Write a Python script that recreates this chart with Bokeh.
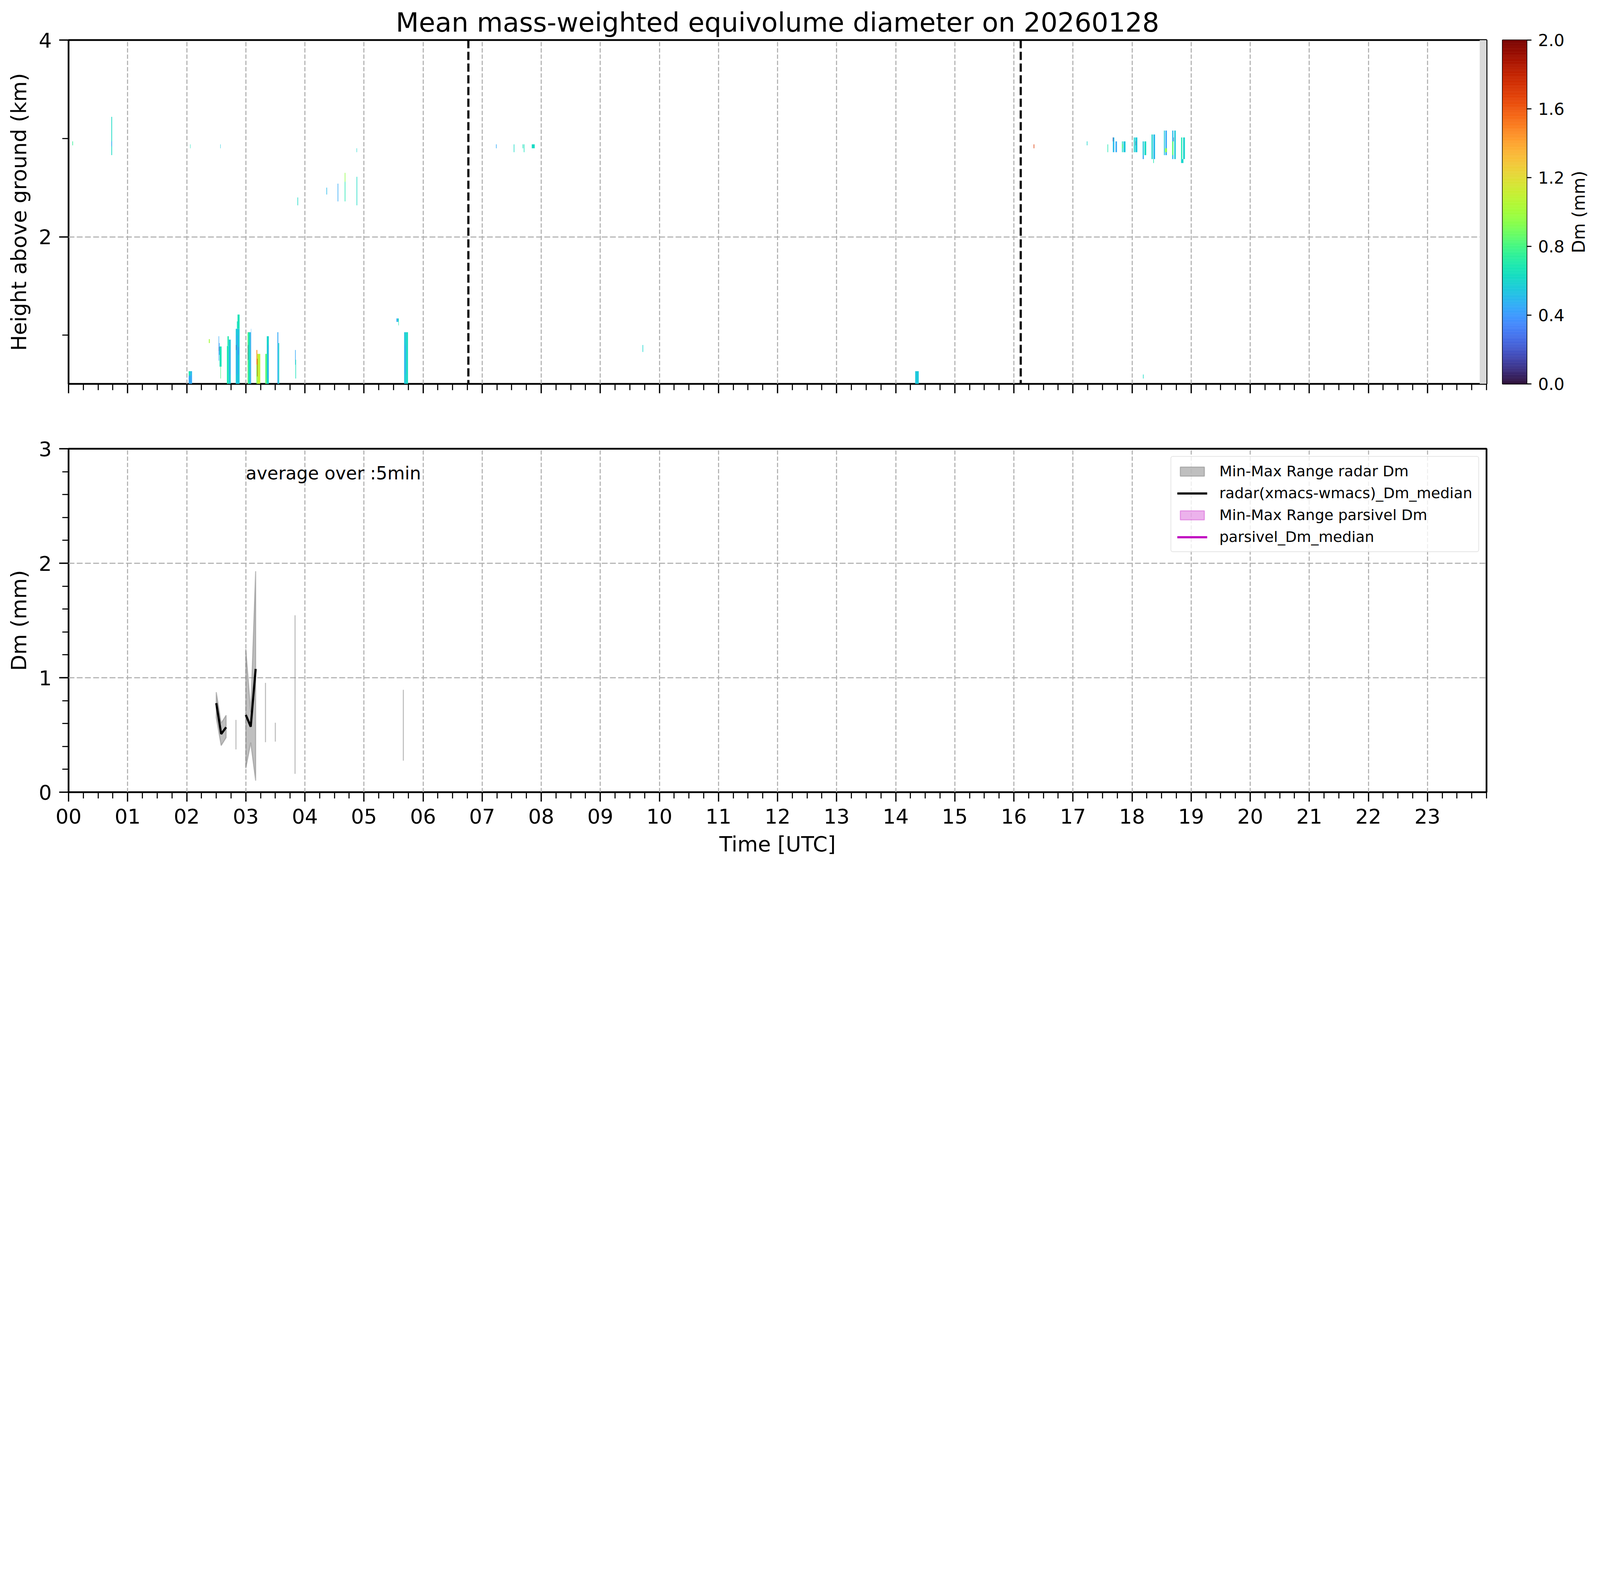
import math
import numpy as np
from bokeh.plotting import figure
from bokeh.models import (Range1d, FixedTicker, LinearColorMapper, ColumnDataSource, Span, Label,
                          Legend, LegendItem, NumeralTickFormatter)
from bokeh.layouts import column, row
from bokeh.palettes import Turbo256
from bokeh.transform import transform
from bokeh.core.properties import value
from bokeh.embed import file_html
from bokeh.resources import INLINE

FONT = "DejaVu Sans"
TITLE = "Mean mass-weighted equivolume diameter on 20260128"

hour_ticks = list(range(24))
hour_labels = [f"{h:02d}" for h in hour_ticks]

# ---------------- top panel: radar Dm cells (hour start, hour end, km bottom, km top, Dm mm)
cell_t0 = [0.065, 0.725, 0.726, 2.033, 2.060, 2.033, 2.058, 2.375, 2.540, 2.548, 2.543, 2.556, 2.570, 2.568,
           2.680, 2.712, 2.690, 2.725, 2.830, 2.850, 2.860, 2.845, 2.835, 2.870,
           3.030, 3.045, 3.075, 3.088, 3.035, 3.180, 3.180, 3.195, 3.192, 3.330, 3.355, 3.372,
           3.535, 3.550, 3.835, 3.840, 3.875, 4.365, 4.555, 4.675, 4.675, 4.875, 4.875,
           5.550, 5.575, 5.583, 5.680, 5.712, 5.690,
           7.235, 7.535, 7.685, 7.705, 7.840, 9.715, 14.330, 16.335,
           17.235, 17.585, 17.675, 17.675, 17.720, 17.830, 17.855, 17.830,
           18.030, 18.055, 18.060, 18.180, 18.210, 18.180, 18.185,
           18.330, 18.360, 18.360, 18.540, 18.565, 18.560, 18.680, 18.715, 18.680, 18.700,
           18.830, 18.865, 18.830]
cell_t1 = [0.075, 0.737, 0.736, 2.060, 2.090, 2.090, 2.064, 2.390, 2.548, 2.556, 2.547, 2.590, 2.578, 2.574,
           2.712, 2.745, 2.712, 2.740, 2.895, 2.860, 2.895, 2.862, 2.840, 2.880,
           3.045, 3.075, 3.090, 3.092, 3.040, 3.195, 3.195, 3.245, 3.198, 3.355, 3.390, 3.385,
           3.550, 3.565, 3.845, 3.850, 3.885, 4.375, 4.565, 4.685, 4.685, 4.885, 4.882,
           5.575, 5.590, 5.590, 5.712, 5.745, 5.705,
           7.245, 7.545, 7.695, 7.715, 7.890, 9.725, 14.390, 16.345,
           17.245, 17.595, 17.700, 17.682, 17.745, 17.845, 17.890, 17.845,
           18.048, 18.090, 18.065, 18.200, 18.240, 18.200, 18.195,
           18.350, 18.390, 18.370, 18.555, 18.590, 18.590, 18.700, 18.740, 18.700, 18.705,
           18.850, 18.895, 18.870]
cell_h0 = [2.93, 2.83, 2.92, 0.59, 0.59, 0.505, 2.90, 0.92, 0.74, 0.80, 0.84, 0.68, 0.56, 2.90,
           0.505, 0.505, 0.89, 0.60, 0.505, 1.065, 1.065, 0.60, 0.85, 0.80,
           0.505, 0.505, 0.505, 1.03, 0.75, 0.505, 0.70, 0.505, 0.58, 0.505, 0.505, 0.56,
           0.505, 0.505, 0.70, 0.56, 2.32, 2.43, 2.36, 2.36, 2.56, 2.32, 2.86,
           1.135, 1.135, 1.10, 0.505, 0.505, 0.60,
           2.90, 2.86, 2.90, 2.86, 2.90, 0.83, 0.505, 2.90,
           2.93, 2.86, 2.86, 2.97, 2.86, 2.86, 2.86, 2.90,
           2.86, 2.86, 2.93, 2.83, 2.83, 2.79, 0.56,
           2.79, 2.79, 2.75, 2.83, 2.83, 2.86, 2.79, 2.79, 2.83, 2.97,
           2.79, 2.79, 2.75]
cell_h1 = [2.97, 3.22, 2.97, 0.634, 0.634, 0.59, 2.94, 0.96, 0.99, 0.92, 0.88, 0.885, 0.68, 2.94,
           0.89, 0.955, 0.99, 0.85, 1.065, 1.14, 1.21, 1.00, 0.90, 0.88,
           1.03, 1.03, 1.03, 1.065, 0.90, 0.70, 0.85, 0.81, 0.76, 0.81, 0.99, 0.90,
           1.03, 0.92, 0.85, 0.75, 2.40, 2.50, 2.54, 2.56, 2.65, 2.61, 2.90,
           1.17, 1.17, 1.135, 1.03, 1.03, 0.90,
           2.94, 2.94, 2.94, 2.94, 2.94, 0.90, 0.634, 2.94,
           2.97, 2.94, 3.01, 3.01, 2.97, 2.97, 2.97, 2.94,
           3.01, 3.01, 2.97, 2.97, 2.97, 2.83, 0.60,
           3.04, 3.04, 2.79, 3.08, 3.08, 2.90, 3.08, 3.08, 2.97, 3.01,
           3.01, 3.01, 2.79]
cell_dm = [0.75, 0.62, 0.42, 0.68, 0.50, 0.45, 0.65, 1.00, 0.45, 0.40, 0.10, 0.66, 0.80, 0.55,
           0.68, 0.55, 0.70, 0.45, 0.55, 0.62, 0.66, 0.45, 0.08, 0.35,
           0.85, 0.62, 0.45, 0.45, 0.10, 0.90, 1.45, 1.10, 1.80, 0.85, 0.60, 0.45,
           0.45, 0.60, 0.45, 0.65, 0.62, 0.50, 0.45, 0.68, 0.95, 0.62, 0.60,
           0.45, 0.68, 0.68, 0.55, 0.62, 0.45,
           0.45, 0.62, 0.65, 0.65, 0.62, 0.60, 0.55, 1.70,
           0.60, 0.68, 0.50, 0.10, 0.45, 0.62, 0.55, 0.80,
           0.60, 0.55, 0.10, 0.55, 0.62, 0.45, 0.62,
           0.60, 0.50, 0.68, 0.55, 0.45, 0.95, 0.50, 0.55, 0.85, 0.10,
           0.68, 0.60, 0.60]

event_lines_h = [6.767, 16.116]
nodata_start_h = 23.885

# ---------------- bottom panel: 5-min radar Dm statistics
dm_time_h = [2.5, 2.5833, 2.6667, 2.8333, 3.0, 3.0833, 3.1667, 3.3333, 3.5, 3.8333, 5.6667]
dm_min = [0.650, 0.408, 0.477, 0.374, 0.209, 0.433, 0.101, 0.437, 0.442, 0.160, 0.276]
dm_max = [0.874, 0.603, 0.672, 0.631, 1.251, 0.700, 1.930, 0.955, 0.607, 1.545, 0.894]
dm_median = [0.778, 0.508, 0.567, float("nan"), 0.675, 0.572, 1.077,
             float("nan"), float("nan"), float("nan"), float("nan")]
# parsivel: no valid samples on this day
parsivel_time_h = [float("nan")]
parsivel_min = [float("nan")]
parsivel_max = [float("nan")]
parsivel_median = [float("nan")]

cbar_ticks = [0.0, 0.4, 0.8, 1.2, 1.6, 2.0]

# ---------------- sizes (CSS px; the page is shown at ~1.82 device px per CSS px)
S = 0.55


def px(v):
    return v * S


def fs(v):
    return f"{v * S:.1f}px"


mapper = LinearColorMapper(palette=Turbo256, low=0.0, high=2.0)
x_minor = [q / 4 for q in range(96) if q % 4 != 0] + [24.0]


def style(p, y_major, y_minor, show_xlabels):
    p.outline_line_color = "black"
    p.outline_line_width = px(8)
    p.background_fill_color = "white"
    p.border_fill_color = "white"
    p.xaxis.ticker = FixedTicker(ticks=hour_ticks, minor_ticks=x_minor)
    if show_xlabels:
        p.xaxis.major_label_overrides = {h: lab for h, lab in zip(hour_ticks, hour_labels)}
    else:
        p.xaxis.major_label_overrides = {h: "" for h in hour_ticks}
    p.yaxis.ticker = FixedTicker(ticks=y_major, minor_ticks=y_minor)
    for ax in (p.xaxis[0], p.yaxis[0]):
        ax.axis_line_color = None
        ax.major_tick_in = 0
        ax.major_tick_out = round(px(44))
        ax.major_tick_line_width = px(6)
        ax.minor_tick_in = 0
        ax.minor_tick_out = round(px(30))
        ax.minor_tick_line_width = px(5)
        ax.major_label_text_font = FONT
        ax.major_label_text_font_size = fs(95)
        ax.major_label_text_color = "black"
        ax.axis_label_text_font = FONT
        ax.axis_label_text_font_size = fs(98)
        ax.axis_label_text_font_style = "normal"
        ax.axis_label_text_color = "black"
    p.xaxis.major_label_standoff = round(px(33))
    p.xaxis.axis_label_standoff = round(px(33))
    p.yaxis.major_label_standoff = round(px(35))
    p.yaxis.axis_label_standoff = round(px(29))
    p.xgrid.grid_line_color = "#b0b0b0"
    p.xgrid.grid_line_dash = "11 5"
    p.xgrid.grid_line_width = px(5)
    p.ygrid.grid_line_color = "#b0b0b0"
    p.ygrid.grid_line_dash = "15 6"
    p.ygrid.grid_line_width = px(5)


# ---------------- top figure
p1 = figure(frame_width=3630, frame_height=880, x_range=Range1d(0, 24), y_range=Range1d(0.505, 4.0),
            min_border_left=175, min_border_right=22, min_border_top=102, min_border_bottom=80,
            output_backend="svg", toolbar_location=None, title=TITLE)
style(p1, [2, 4], [1, 3], False)
p1.yaxis.axis_label = "Height above ground (km)"
p1.title.text_font = FONT
p1.title.text_font_size = fs(124)
p1.title.text_font_style = "normal"
p1.title.text_color = "black"
p1.title.align = "center"
p1.title.standoff = round(px(20))

p1.quad(left=[nodata_start_h], right=[24.0], bottom=[0.505], top=[4.0],
        fill_color="#d9d9d9", line_color=None)
cells = ColumnDataSource(dict(t0=cell_t0, t1=cell_t1, h0=cell_h0, h1=cell_h1, dm=cell_dm))
p1.quad(left="t0", right="t1", bottom="h0", top="h1", source=cells,
        fill_color=transform("dm", mapper), line_color=None)
for t in event_lines_h:
    p1.add_layout(Span(location=t, dimension="height", line_color="black",
                       line_dash="21 9", line_width=px(10)))

# ---------------- colorbar figure
cb = figure(frame_width=62, frame_height=880, x_range=Range1d(0, 1), y_range=Range1d(0, 2),
            min_border_left=19, min_border_right=100, min_border_top=102, min_border_bottom=80,
            x_axis_location=None, y_axis_location="right",
            output_backend="svg", toolbar_location=None)
levels = np.linspace(0, 2, len(Turbo256) + 1)
cb.quad(left=0, right=1, bottom=levels[:-1], top=levels[1:], fill_color=list(Turbo256),
        line_color=list(Turbo256), line_width=0.5)
cb.grid.visible = False
cb.outline_line_color = "black"
cb.outline_line_width = px(5)
cb.background_fill_color = "white"
cb.border_fill_color = "white"
cb.yaxis.ticker = FixedTicker(ticks=cbar_ticks, minor_ticks=[])
cb.yaxis.formatter = NumeralTickFormatter(format="0.0")
cb.yaxis.axis_line_color = None
cb.yaxis.major_tick_in = 0
cb.yaxis.major_tick_out = round(px(21))
cb.yaxis.major_tick_line_width = px(5)
cb.yaxis.minor_tick_line_color = None
cb.yaxis.major_label_standoff = round(px(31))
cb.yaxis.major_label_text_font = FONT
cb.yaxis.major_label_text_font_size = fs(77)
cb.yaxis.major_label_text_color = "black"

# ---------------- colorbar title figure (rotated text inside its own frame)
cbt = figure(frame_width=70, frame_height=880, x_range=Range1d(0, 70), y_range=Range1d(0, 2),
             min_border_left=0, min_border_right=0, min_border_top=102, min_border_bottom=80,
             x_axis_location=None, y_axis_location=None,
             output_backend="svg", toolbar_location=None)
cbt.grid.visible = False
cbt.outline_line_color = None
cbt.background_fill_color = "white"
cbt.border_fill_color = "white"
cbt.text(x=[33], y=[1.0], text=["Dm (mm)"], angle=math.pi / 2,
         text_font=value(FONT), text_font_size=value(fs(80)), text_align="center",
         text_baseline="middle", text_color="black")

# ---------------- bottom figure
p2 = figure(frame_width=3630, frame_height=879, x_range=Range1d(0, 24), y_range=Range1d(0, 3),
            min_border_left=175, min_border_right=273, min_border_top=86, min_border_bottom=186,
            output_backend="svg", toolbar_location=None)
style(p2, [0, 1, 2, 3], [v / 5 for v in range(15) if v % 5 != 0], True)
p2.xaxis.axis_label = "Time [UTC]"
p2.yaxis.axis_label = "Dm (mm)"

# contiguous 5-min segments -> min/max polygons
segs = []
cur = [0]
for i in range(1, len(dm_time_h)):
    if dm_time_h[i] - dm_time_h[i - 1] < 0.09:
        cur.append(i)
    else:
        segs.append(cur)
        cur = [i]
segs.append(cur)
xs = [[dm_time_h[i] for i in s] + [dm_time_h[i] for i in reversed(s)] for s in segs]
ys = [[dm_max[i] for i in s] + [dm_min[i] for i in reversed(s)] for s in segs]
r_rng = p2.patches(xs=xs, ys=ys, fill_color="grey", fill_alpha=0.5,
                   line_color="grey", line_alpha=0.5, line_width=px(5))
r_med = p2.line(x=dm_time_h, y=dm_median, line_color="black", line_width=px(10))
r_prng = p2.patches(xs=[parsivel_time_h + parsivel_time_h[::-1]],
                    ys=[parsivel_max + parsivel_min[::-1]],
                    fill_color="#bf00bf", fill_alpha=0.3, line_color="#bf00bf", line_alpha=0.3,
                    line_width=px(5))
r_pmed = p2.line(x=parsivel_time_h, y=parsivel_median, line_color="#bf00bf", line_width=px(10))

p2.add_layout(Label(x=3.0, y=2.785, text="average over :5min", text_font=FONT,
                    text_font_size=fs(83), text_baseline="alphabetic", text_align="left",
                    text_color="black"))

legend = Legend(items=[LegendItem(label="Min-Max Range radar Dm", renderers=[r_rng]),
                       LegendItem(label="radar(xmacs-wmacs)_Dm_median", renderers=[r_med]),
                       LegendItem(label="Min-Max Range parsivel Dm", renderers=[r_prng]),
                       LegendItem(label="parsivel_Dm_median", renderers=[r_pmed])],
                location="top_right")
legend.label_text_font = FONT
legend.label_text_font_size = fs(69)
legend.label_text_color = "black"
legend.glyph_width = round(px(140))
legend.glyph_height = round(px(53))
legend.label_standoff = round(px(56))
legend.spacing = round(px(22))
legend.padding = round(px(28))
legend.margin = round(px(34))
legend.border_line_color = "#cccccc"
legend.border_line_width = px(5)
legend.background_fill_alpha = 0.8
try:
    legend.border_radius = 6
except Exception:
    pass
p2.add_layout(legend)

layout = column(row(p1, cb, cbt), p2)
open("out.html", "w").write(file_html(layout, INLINE))
